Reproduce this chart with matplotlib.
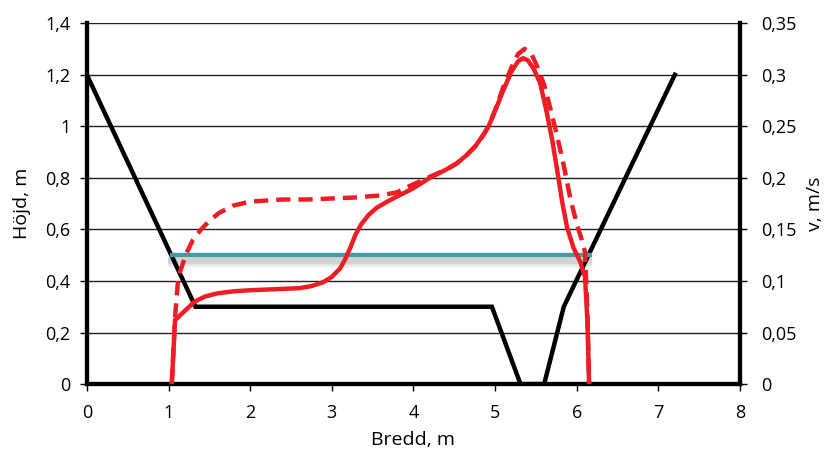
import matplotlib
matplotlib.use("Agg")
import matplotlib.pyplot as plt
from matplotlib.ticker import FuncFormatter

plt.rcParams['font.family'] = ['Open Sans', 'DejaVu Sans']

# channel cross-section (left axis)
bed_x = [0, 1.33, 4.96, 5.31, 5.6, 5.84, 7.2]
bed_y = [1.2, 0.3, 0.3, 0.0, 0.0, 0.3, 1.2]

# water level (left axis)
water_x = [1.02, 6.19]
water_y = [0.5, 0.5]

# velocity, solid (right axis)
v1_x = [1.04, 1.08, 1.2, 1.32, 1.45, 1.6, 1.8, 2.0, 2.3, 2.6, 2.75, 2.9, 3.0, 3.1,
        3.17, 3.23, 3.29, 3.36, 3.45, 3.55, 3.68, 3.8, 4.0, 4.2, 4.4, 4.53, 4.65, 4.75,
        4.85, 4.92, 5.0, 5.1, 5.2, 5.28, 5.34, 5.4, 5.47, 5.55, 5.63, 5.70, 5.76, 5.82,
        5.88, 5.96, 6.04, 6.10, 6.13, 6.15]
v1_y = [0.0, 0.062, 0.071, 0.080, 0.085, 0.088, 0.090, 0.091, 0.092, 0.093, 0.095, 0.099,
        0.104, 0.112, 0.122, 0.133, 0.145, 0.155, 0.164, 0.171, 0.177, 0.182, 0.190, 0.200,
        0.208, 0.214, 0.222, 0.230, 0.241, 0.250, 0.265, 0.285, 0.303, 0.313, 0.316, 0.314,
        0.306, 0.292, 0.264, 0.236, 0.207, 0.177, 0.152, 0.132, 0.119, 0.104, 0.06, 0.0]

# velocity, dashed (right axis)
v2_x = [1.04, 1.08, 1.12, 1.22, 1.30, 1.40, 1.51, 1.62, 1.79, 2.0, 2.2, 2.4, 2.7, 3.0,
        3.3, 3.6, 3.8, 3.95, 4.2, 4.4, 4.53, 4.65, 4.75, 4.85, 4.92, 5.0, 5.1, 5.2,
        5.28, 5.36, 5.44, 5.52, 5.60, 5.68, 5.76, 5.84, 5.92, 6.0, 6.06, 6.10, 6.13, 6.15]
v2_y = [0.0, 0.065, 0.104, 0.127, 0.140, 0.150, 0.159, 0.166, 0.173, 0.177, 0.178, 0.179,
        0.179, 0.180, 0.181, 0.183, 0.186, 0.192, 0.201, 0.208, 0.214, 0.222, 0.230,
        0.241, 0.250, 0.266, 0.288, 0.307, 0.320, 0.325, 0.321, 0.307, 0.290, 0.266,
        0.240, 0.212, 0.180, 0.155, 0.140, 0.128, 0.07, 0.0]

h_ticks = [0, 0.2, 0.4, 0.6, 0.8, 1.0, 1.2, 1.4]
v_ticks = [0, 0.05, 0.1, 0.15, 0.2, 0.25, 0.3, 0.35]
x_ticks = [0, 1, 2, 3, 4, 5, 6, 7, 8]

RED = '#ee1c25'
TEAL = '#4a9aa6'
FS = 14
TS = 13


def comma(val, pos):
    s = ('%.2f' % val).rstrip('0').rstrip('.')
    return s.replace('.', ',')


fig = plt.figure(figsize=(8.27, 4.54), dpi=100)
ax = fig.add_axes([0.105, 0.154, 0.79, 0.795])
ax2 = ax.twinx()

ax.set_xlim(0, 8)
ax.set_ylim(0, 1.4)
ax2.set_ylim(0, 0.35)
ax.set_xticks(x_ticks)
ax.set_yticks(h_ticks)
ax2.set_yticks(v_ticks)
ax.yaxis.set_major_formatter(FuncFormatter(comma))
ax2.yaxis.set_major_formatter(FuncFormatter(comma))

ax.grid(True, axis='y', color='#222222', linewidth=1.0, zorder=0)

for a in (ax, ax2):
    a.spines['top'].set_visible(False)
    for s in ('left', 'right', 'bottom'):
        a.spines[s].set_linewidth(3)
        a.spines[s].set_color('black')
    a.tick_params(axis='both', which='major', direction='out', length=5, width=1,
                  labelsize=TS, colors='black')
ax.tick_params(axis='x', pad=9)
ax.tick_params(axis='y', pad=7)
ax2.tick_params(axis='y', pad=10)

ax.plot(bed_x, bed_y, color='black', linewidth=3.2, zorder=3, solid_joinstyle='miter')

# soft shadow under the water line
for w, a_ in [(10, 0.04), (8, 0.06), (6, 0.08), (4, 0.11)]:
    ax.plot([water_x[0] - 0.03, water_x[1]], [y - 0.022 for y in water_y], color='#555555',
            linewidth=w, alpha=a_, solid_capstyle='butt', zorder=2)
ax.plot(water_x, water_y, color=TEAL, linewidth=3.2, solid_capstyle='butt', zorder=4)

ax2.plot(v2_x, v2_y, color=RED, linewidth=3.2, dashes=(3.2, 1.8), zorder=5)
ax2.plot(v1_x, v1_y, color=RED, linewidth=3.2, zorder=5)

ax.set_xlabel('Bredd, m', fontsize=FS, labelpad=7)
ax.set_ylabel('Höjd, m', fontsize=FS, labelpad=10)
ax2.set_ylabel('v, m/s', fontsize=FS)
ax2.yaxis.set_label_coords(1.101, 0.5)

fig.savefig('out.png', dpi=100)
